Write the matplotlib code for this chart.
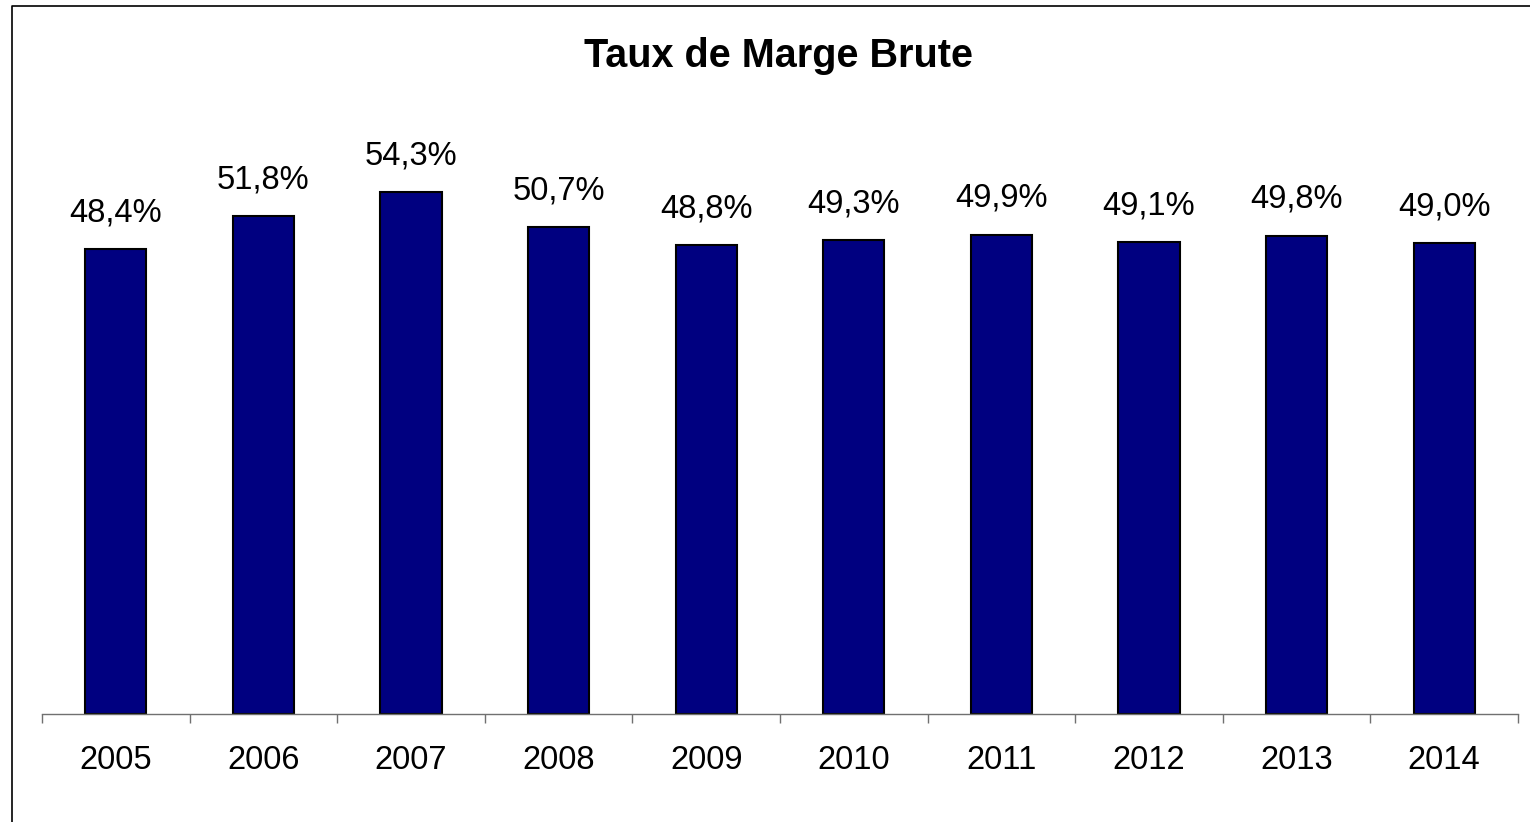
import matplotlib
matplotlib.use("Agg")
import matplotlib.pyplot as plt
from matplotlib.lines import Line2D
import numpy as np

plt.rcParams['font.family'] = ['Liberation Sans', 'DejaVu Sans']

years = ['2005', '2006', '2007', '2008', '2009', '2010', '2011', '2012', '2013', '2014']
marge = [48.4, 51.8, 54.3, 50.7, 48.8, 49.3, 49.9, 49.1, 49.8, 49.0]
labels = ['48,4%', '51,8%', '54,3%', '50,7%', '48,8%', '49,3%', '49,9%', '49,1%', '49,8%', '49,0%']

W, H = 1530, 822
fig = plt.figure(figsize=(W / 100, H / 100), dpi=100)
ax = fig.add_axes([42 / W, 1 - 714 / H, (1518 - 42) / W, (714 - 137.6) / H])

x = np.arange(len(years))
ax.bar(x, marge, width=0.415, color='#000080', edgecolor='black', linewidth=1.5, zorder=2)

for xi, v, lab in zip(x, marge, labels):
    ax.annotate(lab, (xi, v), xytext=(0, 20), textcoords='offset points',
                ha='center', va='baseline', fontsize=23.5)

ax.set_xlim(-0.5, len(years) - 0.5)
ax.set_ylim(0, 60)

# ticks between categories, labels at the centres
ax.set_xticks(np.arange(len(years) + 1) - 0.5)
ax.set_xticklabels([])
ax.set_xticks(x, minor=True)
ax.set_xticklabels(years, minor=True, fontsize=23.5)
ax.tick_params(axis='x', which='major', length=6.5, width=1, color='#707070', direction='out')
ax.tick_params(axis='x', which='minor', length=0, pad=22.5)
ax.set_yticks([])

for s in ['left', 'right', 'top']:
    ax.spines[s].set_visible(False)
ax.spines['bottom'].set_color('#707070')
ax.spines['bottom'].set_linewidth(1)

fig.text(778 / W, 1 - 67 / H, 'Taux de Marge Brute', ha='center', va='baseline',
         fontsize=28.5, fontweight='bold')

# chart frame (only left and top edges are inside the picture)
bx, by = 11.5 / W, 1 - 6.5 / H
fig.add_artist(Line2D([bx, bx, 1.0], [0.0, by, by], transform=fig.transFigure,
                      color='black', linewidth=1.2))

fig.savefig('out.png', dpi=100)
